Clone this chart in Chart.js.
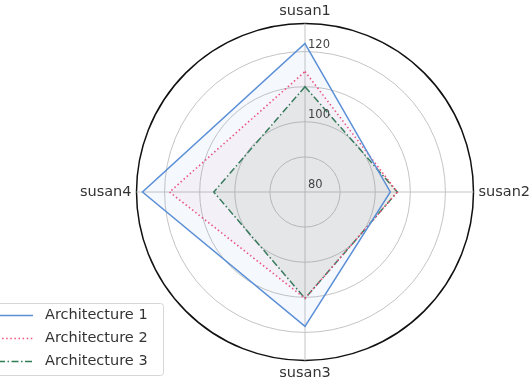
<!DOCTYPE html>
<html>
<head>
<meta charset="utf-8">
<script src="https://cdn.jsdelivr.net/npm/chart.js@4"></script>
<style>
  html, body { margin: 0; padding: 0; background: #fff; }
  #wrap { width: 532px; height: 380px; position: relative; }
</style>
</head>
<body>
<div id="wrap"><canvas id="radar"></canvas></div>
<script>
'use strict';

// ── data ──
const categories = ['susan1', 'susan2', 'susan3', 'susan4'];
const arch1 = [122.3, 104.3, 118.3, 126.3];
const arch2 = [114.3, 106.3, 110.3, 118.6];
const arch3 = [110.0, 106.3, 110.3, 106.0];
const seriesNames = ['Architecture 1', 'Architecture 2', 'Architecture 3'];
const tickLabels = [80, 100, 120];

const FONT = 'DejaVu Sans';
const BLUE = '#5b8fd6';
const RED = '#f2507a';
const GREEN = '#2f7d55';

const lineStyles = [
  { color: BLUE, dash: [] },
  { color: RED, dash: [1.5, 2.6] },
  { color: GREEN, dash: [7, 2.5, 1.5, 2.5] },
];

// tick labels next to the vertical axis + legend box
const overlay = {
  id: 'overlay',
  afterDraw(chart) {
    const ctx = chart.ctx;
    const r = chart.scales.r;
    ctx.save();
    ctx.font = `11.5px ${FONT}`;
    ctx.fillStyle = '#444';
    ctx.textAlign = 'left';
    ctx.textBaseline = 'bottom';
    tickLabels.forEach(v => {
      const y = r.yCenter - r.getDistanceFromCenterForValue(v);
      ctx.fillText(String(v), r.xCenter + 3, y - 1);
    });

    // legend
    ctx.beginPath();
    ctx.roundRect(-10, 303.5, 173.5, 72, 3);
    ctx.fillStyle = 'rgba(255,255,255,0.85)';
    ctx.fill();
    ctx.strokeStyle = '#d6d6d6';
    ctx.lineWidth = 1;
    ctx.stroke();

    ctx.font = `14.5px ${FONT}`;
    ctx.textBaseline = 'middle';
    seriesNames.forEach((name, i) => {
      const y = 315.5 + i * 23;
      ctx.beginPath();
      ctx.setLineDash(lineStyles[i].dash);
      ctx.strokeStyle = lineStyles[i].color;
      ctx.lineWidth = 1.5;
      ctx.moveTo(-2, y);
      ctx.lineTo(33, y);
      ctx.stroke();
      ctx.setLineDash([]);
      ctx.fillStyle = '#333';
      ctx.fillText(name, 45, y);
    });
    ctx.restore();
  },
};

new Chart(document.getElementById('radar').getContext('2d'), {
  type: 'radar',
  data: {
    labels: categories,
    datasets: [
      {
        label: seriesNames[0],
        data: arch1,
        borderColor: BLUE,
        backgroundColor: 'rgba(91,143,214,0.06)',
        borderWidth: 1.5,
        fill: true,
        pointRadius: 0,
      },
      {
        label: seriesNames[1],
        data: arch2,
        borderColor: RED,
        backgroundColor: 'rgba(242,80,122,0.045)',
        borderWidth: 1.6,
        borderDash: lineStyles[1].dash,
        fill: true,
        pointRadius: 0,
      },
      {
        label: seriesNames[2],
        data: arch3,
        borderColor: GREEN,
        backgroundColor: 'rgba(95,150,95,0.11)',
        borderWidth: 1.5,
        borderDash: lineStyles[2].dash,
        fill: true,
        pointRadius: 0,
      },
    ],
  },
  options: {
    responsive: true,
    maintainAspectRatio: false,
    animation: false,
    layout: { padding: { left: 78, top: 4, right: 0, bottom: 0 } },
    elements: { line: { tension: 0 } },
    plugins: {
      legend: { display: false },
      tooltip: { enabled: false },
    },
    scales: {
      r: {
        min: 80,
        max: 128,
        ticks: { stepSize: 10, display: false },
        grid: {
          circular: true,
          color: (c) => (c.tick && c.tick.value === 128 ? '#111' : '#c4c4c4'),
          lineWidth: (c) => (c.tick && c.tick.value === 128 ? 1.5 : 1),
        },
        angleLines: { color: '#c4c4c4', lineWidth: 1 },
        pointLabels: {
          font: { family: FONT, size: 14.5, lineHeight: 1 },
          color: '#333',
          padding: 5,
        },
      },
    },
  },
  plugins: [overlay],
});
</script>
</body>
</html>
